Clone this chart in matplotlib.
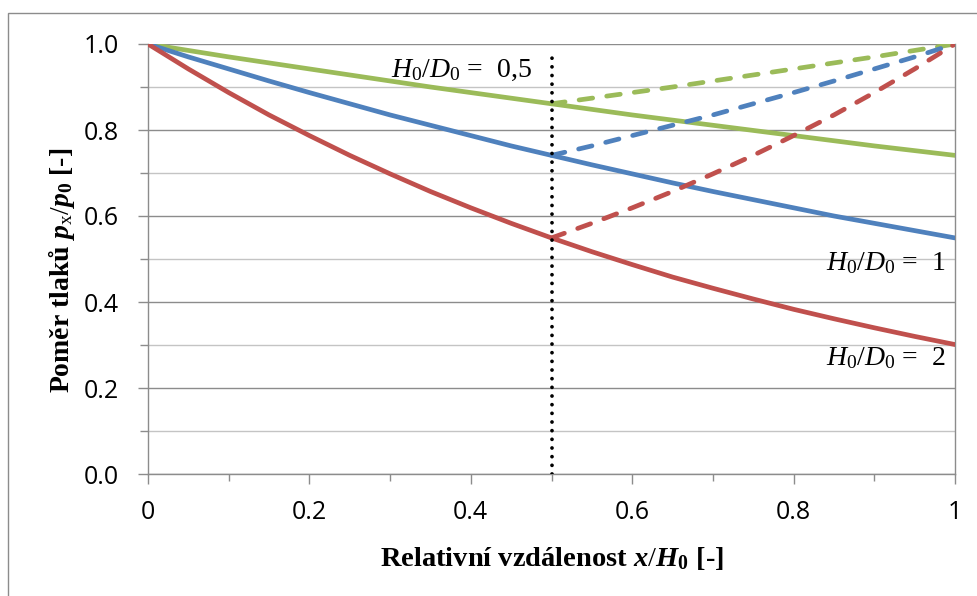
import matplotlib
matplotlib.use("Agg")
import matplotlib.pyplot as plt
from matplotlib.patches import Rectangle
from matplotlib.ticker import MultipleLocator, FixedLocator, FuncFormatter

plt.rcParams["mathtext.fontset"] = "custom"
plt.rcParams["mathtext.rm"] = "Liberation Serif"
plt.rcParams["mathtext.it"] = "Liberation Serif:italic"
plt.rcParams["mathtext.bf"] = "Liberation Serif:bold"
plt.rcParams["mathtext.bfit"] = "Liberation Serif:bold:italic"

# Relative distance x/H0
x_full = [0.00, 0.05, 0.10, 0.15, 0.20, 0.25, 0.30, 0.35, 0.40, 0.45, 0.50,
          0.55, 0.60, 0.65, 0.70, 0.75, 0.80, 0.85, 0.90, 0.95, 1.00]
x_half = [0.50, 0.55, 0.60, 0.65, 0.70, 0.75, 0.80, 0.85, 0.90, 0.95, 1.00]

# Pressure ratio px/p0 along the full length (solid curves)
p_h05 = [1.000, 0.985, 0.970, 0.956, 0.942, 0.928, 0.914, 0.900, 0.887, 0.874, 0.861,
         0.848, 0.835, 0.823, 0.811, 0.799, 0.787, 0.775, 0.763, 0.752, 0.741]
p_h1 = [1.000, 0.970, 0.942, 0.914, 0.887, 0.861, 0.835, 0.811, 0.787, 0.763, 0.741,
        0.719, 0.698, 0.677, 0.657, 0.638, 0.619, 0.600, 0.583, 0.566, 0.549]
p_h2 = [1.000, 0.942, 0.887, 0.835, 0.787, 0.741, 0.698, 0.657, 0.619, 0.583, 0.549,
        0.517, 0.487, 0.458, 0.432, 0.407, 0.383, 0.361, 0.340, 0.320, 0.301]

# Dashed branches from the midpoint back up to the far end
p_h05_back = [0.861, 0.874, 0.887, 0.900, 0.914, 0.928, 0.942, 0.956, 0.970, 0.985, 1.000]
p_h1_back = [0.741, 0.763, 0.787, 0.811, 0.835, 0.861, 0.887, 0.914, 0.942, 0.970, 1.000]
p_h2_back = [0.549, 0.583, 0.619, 0.657, 0.698, 0.741, 0.787, 0.835, 0.887, 0.942, 1.000]

mid_x = 0.5
x_ticks = [0, 0.2, 0.4, 0.6, 0.8, 1]
x_tick_labels = ["0", "0.2", "0.4", "0.6", "0.8", "1"]

green = "#9BBB59"
blue = "#4F81BD"
red = "#C0504D"
grid_major = "#8C8C8C"
grid_minor = "#C4C4C4"

fig = plt.figure(figsize=(9.77, 5.96), dpi=100)
ax = fig.add_axes([148 / 977, 1 - 474 / 596, (955 - 148) / 977, (474 - 44) / 596])

# outer chart frame
fig.patches.append(Rectangle((8 / 977, -0.05), 1.2, 1 - 13 / 596 + 0.05,
                             transform=fig.transFigure, fill=False,
                             edgecolor="#8C8C8C", linewidth=1.0))

lw = 3.4
ax.plot(x_full, p_h05, color=green, lw=lw, solid_capstyle="round", zorder=3)
ax.plot(x_full, p_h1, color=blue, lw=lw, solid_capstyle="round", zorder=3)
ax.plot(x_full, p_h2, color=red, lw=lw, solid_capstyle="round", zorder=3)

for xs, ys, c in [(x_half, p_h05_back, green), (x_half, p_h1_back, blue), (x_half, p_h2_back, red)]:
    ax.plot(xs, ys, color=c, lw=lw, linestyle=(0, (2.9, 3.0)),
            dash_capstyle="round", zorder=3)

ax.plot([mid_x, mid_x], [0, 0.985], color="black", lw=2.7,
        linestyle=(0, (0.01, 2.3)), dash_capstyle="round", zorder=4)

ax.set_xlim(0, 1)
ax.set_ylim(0, 1)

ax.yaxis.set_major_locator(MultipleLocator(0.2))
ax.yaxis.set_minor_locator(FixedLocator([0.1, 0.3, 0.5, 0.7, 0.9]))
ax.yaxis.set_major_formatter(FuncFormatter(lambda v, p: f"{v:.1f}"))
ax.xaxis.set_major_locator(FixedLocator(x_ticks))
ax.set_xticklabels(x_tick_labels)
ax.xaxis.set_minor_locator(FixedLocator([0.1, 0.3, 0.5, 0.7, 0.9]))

ax.grid(which="major", axis="y", color=grid_major, lw=1.0, zorder=0)
ax.grid(which="minor", axis="y", color=grid_minor, lw=1.0, zorder=0)
ax.set_axisbelow(True)

for s in ["left", "bottom", "right"]:
    ax.spines[s].set_color(grid_major)
    ax.spines[s].set_linewidth(1.0)
ax.spines["top"].set_visible(False)

ax.tick_params(axis="both", which="both", direction="out", color=grid_major, width=1.0)
ax.tick_params(axis="y", which="major", length=7, pad=14)
ax.tick_params(axis="y", which="minor", length=6)
ax.tick_params(axis="x", which="major", length=7, pad=12)
ax.tick_params(axis="x", which="minor", length=5)
for lab in ax.get_xticklabels() + ax.get_yticklabels():
    lab.set_fontfamily("Open Sans")
    lab.set_fontsize(18)

ax.set_xlabel(r"Relativní vzdálenost $\mathbfit{x}/\mathbfit{H}_\mathbf{0}$ [-]",
              fontfamily="Liberation Serif", fontweight="bold", fontsize=20.5, labelpad=14)
ax.set_ylabel(r"Poměr tlaků $\mathbfit{p}_\mathrm{x}/\mathbfit{p}_\mathbf{0}$ [-]",
              fontfamily="Liberation Serif", fontweight="bold", fontsize=20)
ax.yaxis.set_label_coords(-0.088, 0.474)

lab_kw = dict(fontfamily="Liberation Serif", fontsize=20, zorder=5)
ax.text(0.301, 0.923, r"$\mathit{H}_\mathrm{0}/\mathit{D}_\mathrm{0}$ =  0,5",
        ha="left", va="baseline", **lab_kw)
ax.text(0.988, 0.474, r"$\mathit{H}_\mathrm{0}/\mathit{D}_\mathrm{0}$ =  1",
        ha="right", va="baseline", **lab_kw)
ax.text(0.988, 0.253, r"$\mathit{H}_\mathrm{0}/\mathit{D}_\mathrm{0}$ =  2",
        ha="right", va="baseline", **lab_kw)

fig.savefig("out.png", dpi=100)
